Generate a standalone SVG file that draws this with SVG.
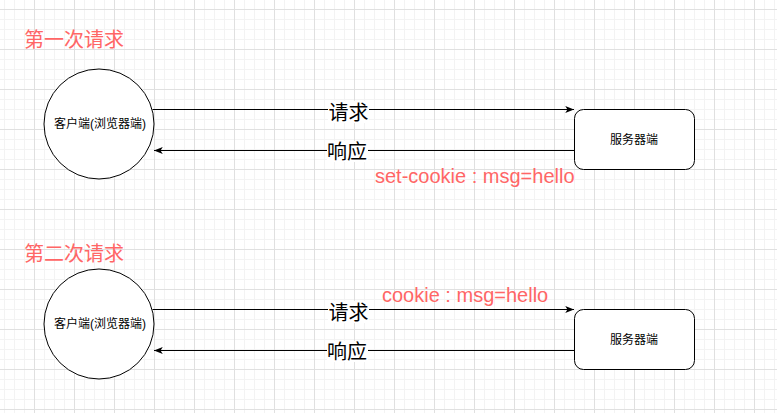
<svg xmlns="http://www.w3.org/2000/svg" width="777" height="413" viewBox="0 0 777 413">
  <style>
    .title { font-family: "Liberation Sans", "Noto Sans CJK SC", sans-serif; font-size: 20px; fill: #ff6666; }
    .cookie { font-family: "Liberation Sans", "Noto Sans CJK SC", sans-serif; font-size: 20px; fill: #ff6666; }
    .elabel { font-family: "Liberation Sans", "Noto Sans CJK SC", sans-serif; font-size: 20px; fill: #000000; text-anchor: middle; }
    .nlabel { font-family: "Liberation Sans", "Noto Sans CJK SC", sans-serif; font-size: 12px; fill: #000000; text-anchor: middle; }
    .shape { fill: #ffffff; stroke: #000000; stroke-width: 1; }
    .edge { fill: none; stroke: #000000; stroke-width: 1; }
    .lblbg { fill: #ffffff; }
  </style>
  <defs>
    <pattern id="grid" patternUnits="userSpaceOnUse" x="34" y="9" width="40" height="40">
      <path d="M10.5,0 V40 M20.5,0 V40 M30.5,0 V40 M0,10.5 H40 M0,20.5 H40 M0,30.5 H40" stroke="#f3f3f3" stroke-width="1" fill="none"/>
      <path d="M0.5,0 V40 M0,0.5 H40" stroke="#e0e0e0" stroke-width="1" fill="none"/>
    </pattern>
    <marker id="arrow" markerUnits="userSpaceOnUse" viewBox="0 0 10 8" refX="10" refY="4" markerWidth="9" markerHeight="7" orient="auto">
      <path d="M0,0 L10,4 L0,8 L2.5,4 z" fill="#000000"/>
    </marker>
  </defs>
  <rect x="0" y="0" width="777" height="413" fill="#ffffff"/>
  <rect x="0" y="0" width="777" height="413" fill="url(#grid)"/>

  <g id="title1"><text class="title" x="24" y="47">第一次请求</text></g>
  <g id="title2"><text class="title" x="24" y="261">第二次请求</text></g>

  <g id="connectors">
    <path class="edge" d="M152.5,109.5 H574" marker-end="url(#arrow)"/>
    <path class="edge" d="M574,150.5 H154" marker-end="url(#arrow)"/>
    <path class="edge" d="M152.5,309.5 H574" marker-end="url(#arrow)"/>
    <path class="edge" d="M574,350.5 H154" marker-end="url(#arrow)"/>
    <rect class="lblbg" x="328" y="101" width="41" height="22"/>
    <text class="elabel" x="348.5" y="120">请求</text>
    <rect class="lblbg" x="327" y="141" width="41" height="21"/>
    <text class="elabel" x="347" y="159">响应</text>
    <rect class="lblbg" x="328" y="301" width="41" height="22"/>
    <text class="elabel" x="348.5" y="320">请求</text>
    <rect class="lblbg" x="327" y="341" width="41" height="21"/>
    <text class="elabel" x="347" y="359">响应</text>
  </g>

  <g id="setcookie"><text class="cookie" x="375" y="183">set-cookie : msg=hello</text></g>
  <g id="cookie"><text class="cookie" x="382" y="302">cookie : msg=hello</text></g>

  <g id="client1">
    <circle class="shape" cx="99" cy="124" r="55"/>
    <text class="nlabel" x="100" y="128">客户端(浏览器端)</text>
  </g>
  <g id="server1">
    <rect class="shape" x="574.5" y="109.5" width="120" height="60" rx="9" ry="9"/>
    <text class="nlabel" x="634" y="144">服务器端</text>
  </g>
  <g id="client2">
    <circle class="shape" cx="99" cy="324" r="55"/>
    <text class="nlabel" x="100" y="328">客户端(浏览器端)</text>
  </g>
  <g id="server2">
    <rect class="shape" x="574.5" y="309.5" width="120" height="60" rx="9" ry="9"/>
    <text class="nlabel" x="634" y="344">服务器端</text>
  </g>
</svg>
